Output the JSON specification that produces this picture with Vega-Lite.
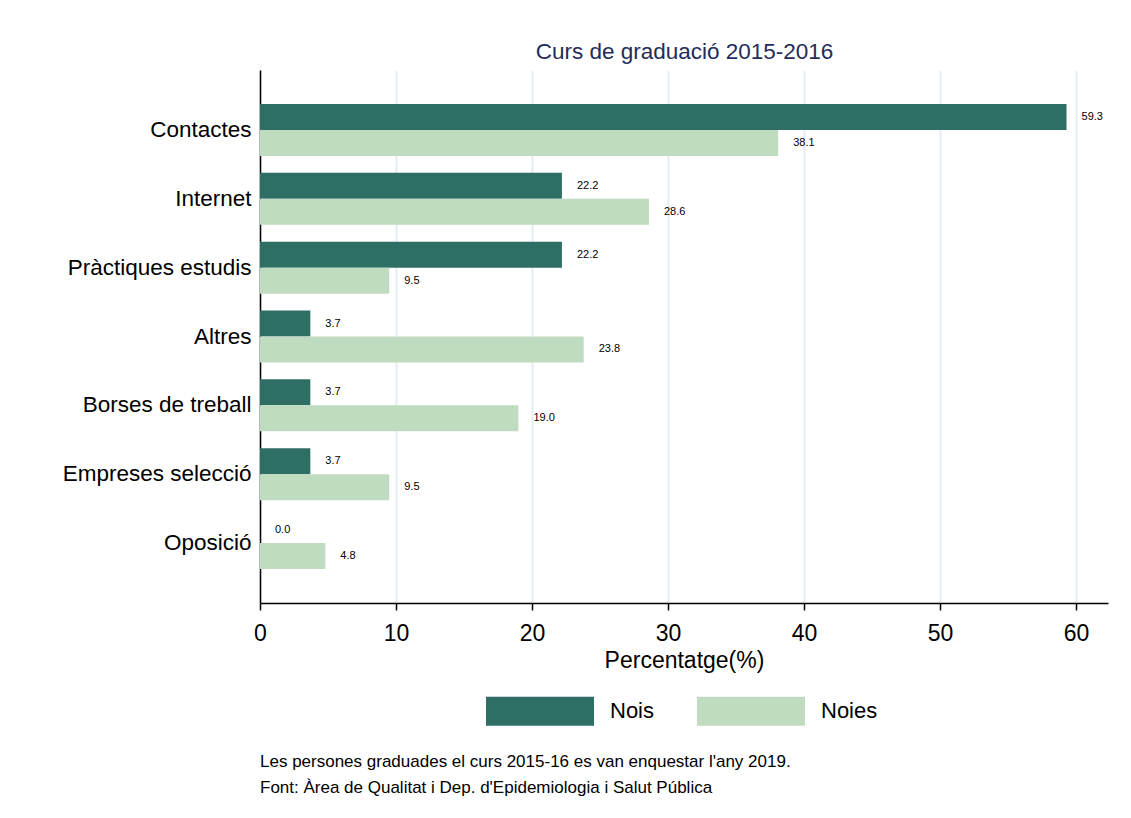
{
  "$schema": "https://vega.github.io/schema/vega-lite/v6.json",
  "width": 848,
  "height": 533,
  "autosize": {"type": "none"},
  "padding": {"left": 260, "top": 70, "right": 23, "bottom": 215},
  "background": "white",
  "config": {"font": "Liberation Sans", "view": {"stroke": null}},
  "title": {
    "text": ["Les persones graduades el curs 2015-16 es van enquestar l'any 2019.", "Font: Àrea de Qualitat i Dep. d'Epidemiologia i Salut Pública"],
    "orient": "bottom",
    "anchor": "start",
    "frame": "group",
    "fontSize": 17,
    "fontWeight": "normal",
    "color": "black",
    "lineHeight": 26,
    "offset": 28
  },
  "data": {
    "values": [
      {"cat": "Contactes", "sex": "Nois", "value": 59.3},
      {"cat": "Contactes", "sex": "Noies", "value": 38.1},
      {"cat": "Internet", "sex": "Nois", "value": 22.2},
      {"cat": "Internet", "sex": "Noies", "value": 28.6},
      {"cat": "Pràctiques estudis", "sex": "Nois", "value": 22.2},
      {"cat": "Pràctiques estudis", "sex": "Noies", "value": 9.5},
      {"cat": "Altres", "sex": "Nois", "value": 3.7},
      {"cat": "Altres", "sex": "Noies", "value": 23.8},
      {"cat": "Borses de treball", "sex": "Nois", "value": 3.7},
      {"cat": "Borses de treball", "sex": "Noies", "value": 19.0},
      {"cat": "Empreses selecció", "sex": "Nois", "value": 3.7},
      {"cat": "Empreses selecció", "sex": "Noies", "value": 9.5},
      {"cat": "Oposició", "sex": "Nois", "value": 0.0},
      {"cat": "Oposició", "sex": "Noies", "value": 4.8}
    ]
  },
  "encoding": {
    "y": {
      "field": "cat",
      "type": "nominal",
      "sort": ["Contactes", "Internet", "Pràctiques estudis", "Altres", "Borses de treball", "Empreses selecció", "Oposició"],
      "scale": {"paddingInner": 0.245, "paddingOuter": 0.494},
      "axis": {"title": null, "ticks": false, "labelFontSize": 22.5, "labelLimit": 0, "labelPadding": 9, "labelColor": "black", "domainColor": "black", "domainWidth": 1.5}
    },
    "yOffset": {
      "field": "sex",
      "type": "nominal",
      "sort": ["Nois", "Noies"],
      "scale": {"paddingInner": 0, "paddingOuter": 0}
    }
  },
  "layer": [
    {
      "mark": {"type": "bar"},
      "encoding": {
        "x": {
          "field": "value",
          "type": "quantitative",
          "scale": {"domain": [0, 62.35], "nice": false, "zero": true},
          "axis": {
            "values": [0, 10, 20, 30, 40, 50, 60],
            "grid": true,
            "gridColor": "#e3edf1",
            "gridWidth": 2,
            "ticks": true,
            "tickSize": 7,
            "tickColor": "black",
            "tickWidth": 1.5,
            "domainColor": "black",
            "domainWidth": 1.5,
            "labelFontSize": 23,
            "labelFlush": false,
            "labelColor": "black",
            "labelPadding": 12,
            "title": "Percentatge(%)",
            "titleFontSize": 23,
            "titleFontWeight": "normal",
            "titleColor": "black",
            "titlePadding": 4
          }
        },
        "color": {
          "field": "sex",
          "type": "nominal",
          "sort": ["Nois", "Noies"],
          "scale": {"domain": ["Nois", "Noies"], "range": ["#2e6e65", "#bfdcc0"]},
          "legend": {
            "title": null,
            "orient": "none",
            "direction": "horizontal",
            "legendX": 226,
            "legendY": 587,
            "padding": 0,
            "symbolType": "M-1,-0.27h2v0.54h-2z",
            "symbolSize": 11664,
            "symbolStrokeWidth": 0,
            "symbolOpacity": 1,
            "labelFontSize": 22,
            "labelColor": "black",
            "labelOffset": 16,
            "columnPadding": 42
          }
        }
      }
    },
    {
      "mark": {"type": "text", "align": "left", "baseline": "middle", "dx": 15, "fontSize": 11, "color": "black"},
      "encoding": {
        "x": {
          "field": "value",
          "type": "quantitative",
          "scale": {"domain": [0, 62.35], "nice": false, "zero": true},
          "axis": {
            "orient": "top",
            "labels": false,
            "ticks": false,
            "domain": false,
            "grid": false,
            "title": "Curs de graduació 2015-2016",
            "titleFontSize": 22.5,
            "titleFontWeight": "normal",
            "titleColor": "#1f2d5a",
            "titlePadding": 7
          }
        },
        "text": {"field": "value", "type": "quantitative", "format": ".1f"}
      }
    }
  ],
  "resolve": {"axis": {"x": "independent"}}
}
